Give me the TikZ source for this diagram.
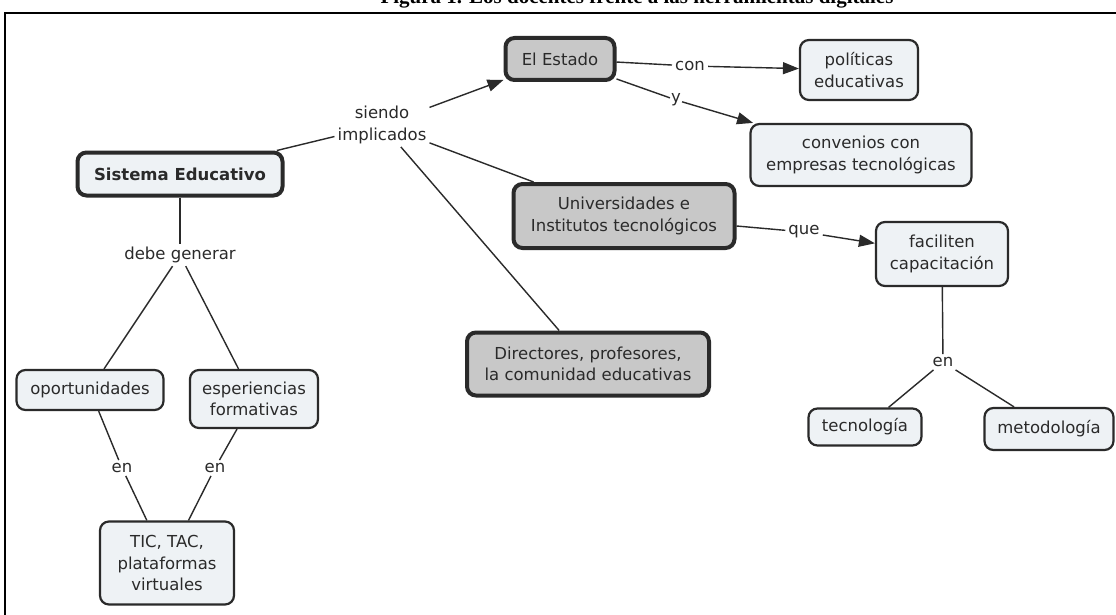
\documentclass[tikz,border=0pt]{standalone}
\usepackage{fontspec}
\setmainfont{DejaVu Sans}
\newfontfamily\capfont{Liberation Serif}
\usetikzlibrary{arrows.meta}
\definecolor{lightfill}{HTML}{EEF2F5}
\definecolor{greyfill}{HTML}{C8C8C8}
\definecolor{ink}{HTML}{2A2A2A}
\tikzset{
 concept/.style={draw=ink, rounded corners=9pt, fill=lightfill, line width=2.2pt, align=center, inner sep=0pt, font=\fontsize{16.5}{21.5}\selectfont, text=ink},
 mainc/.style={concept, line width=4pt},
 greyc/.style={mainc, fill=greyfill},
 lbl/.style={align=center, font=\fontsize{16.5}{21.5}\selectfont, text=ink, inner sep=3pt},
 link/.style={draw=ink, line width=1.4pt},
 arr/.style={link, -{Triangle[length=16pt,width=12pt]}},
}
\begin{document}
\begin{tikzpicture}[x=1pt,y=-1pt]
\useasboundingbox (0,0) rectangle (1116,615);
\clip (0,0) rectangle (1116,615);
\fill[white] (0,0) rectangle (1116,615);
\node[anchor=base, font=\capfont\bfseries\fontsize{21}{24}\selectfont, inner sep=0pt] (cap) at (637,3.5) {Figura 1. Los docentes frente a las herramientas digitales};
\draw[line width=2pt, black] (5,640) -- (5,13) -- (1130,13);

% concepts
\node[mainc, minimum width=205pt, minimum height=43pt, font=\bfseries\fontsize{16.5}{21.5}\selectfont] (se) at (180,174) {Sistema Educativo};
\node[greyc, minimum width=109pt, minimum height=42pt] (est) at (560,59) {El Estado};
\node[concept, minimum width=118pt, minimum height=60pt] (pol) at (859,70) {políticas\\educativas};
\node[concept, minimum width=221pt, minimum height=62pt] (conv) at (861,155) {convenios con\\empresas tecnológicas};
\node[greyc, minimum width=221pt, minimum height=64pt] (univ) at (624,216) {Universidades e\\Institutos tecnológicos};
\node[concept, minimum width=132pt, minimum height=64pt] (fac) at (942,254) {faciliten\\capacitación};
\node[concept, minimum width=113pt, minimum height=37pt] (tec) at (865,427) {tecnología};
\node[concept, minimum width=129pt, minimum height=42pt] (met) at (1049,429) {metodología};
\node[greyc, minimum width=242pt, minimum height=63pt] (dir) at (588,364) {Directores, profesores,\\la comunidad educativas};
\node[concept, minimum width=147pt, minimum height=40pt] (opo) at (90,390) {oportunidades};
\node[concept, minimum width=128pt, minimum height=58pt] (esp) at (254,399) {esperiencias\\formativas};
\node[concept, minimum width=134pt, minimum height=83pt] (tic) at (167,563) {TIC, TAC,\\plataformas\\virtuales};

% linking phrases
\node[lbl] (sie) at (382,125) {siendo\\implicados};
\node[lbl] (con) at (690,66) {con};
\node[lbl, inner sep=1pt] (ylb) at (676,100) {y};
\node[lbl] (que) at (804,232) {que};
\node[lbl] (en3) at (943,362) {en};
\node[lbl] (deb) at (180,255) {debe generar};
\node[lbl] (en1) at (122,468) {en};
\node[lbl] (en2) at (215,468) {en};

% connectors
\draw[link] (se) -- (sie);
\draw[arr] (sie) -- (est);
\draw[link] (sie) -- (univ);
\draw[link] (sie) -- (dir);
\draw[link] (est) -- (con);
\draw[arr] (con) -- (pol);
\draw[link] (est) -- (ylb);
\draw[arr] (ylb) -- (conv);
\draw[link] (univ) -- (que);
\draw[arr] (que) -- (fac);
\draw[link] (fac) -- (en3);
\draw[link] (en3) -- (tec);
\draw[link] (en3) -- (met);
\draw[link] (se) -- (deb);
\draw[link] (deb) -- (opo);
\draw[link] (deb) -- (esp);
\draw[link] (opo) -- (en1);
\draw[link] (en1) -- (tic);
\draw[link] (esp) -- (en2);
\draw[link] (en2) -- (tic);
\end{tikzpicture}
\end{document}
